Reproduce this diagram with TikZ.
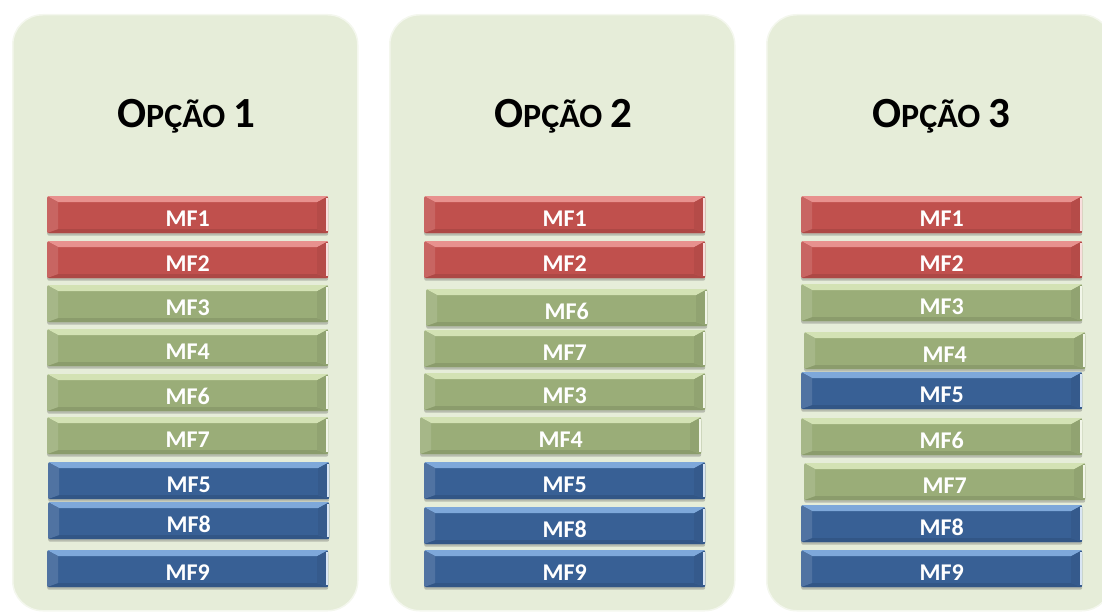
\documentclass[tikz,border=0pt]{standalone}
\usepackage{fontspec}
\setmainfont{Carlito}
\usetikzlibrary{shadows}

\definecolor{panelbg}{HTML}{E6EDD9}
\definecolor{mfred}{HTML}{C0504D}
\definecolor{mfredhi}{HTML}{E8918E}
\definecolor{mfgreen}{HTML}{9AAD78}
\definecolor{mfgreenhi}{HTML}{D3E2B4}
\definecolor{mfblue}{HTML}{386095}
\definecolor{mfbluehi}{HTML}{7EA8DA}

\newcommand\opcao[1]{\fontsize{43}{43}\selectfont O\fontsize{34}{34}\selectfont PÇÃO \fontsize{43}{43}\selectfont #1}

\tikzset{
  panel/.style={draw=white!55!panelbg, line width=1.5pt, fill=panelbg, rounded corners=30pt,
    minimum width=345pt, minimum height=596pt, anchor=north west, inner sep=0pt},
  titletext/.style={anchor=base, font=\bfseries, text=black, inner sep=0pt},
  mfbar/.style 2 args={fill=#1, minimum width=281pt, minimum height=37pt, anchor=north west,
    rounded corners=2pt, inner sep=0pt, text=white, font=\fontsize{24}{24}\selectfont\bfseries,
    text height=24pt, text depth=0pt,
    drop shadow={shadow xshift=0pt, shadow yshift=-2.5pt, opacity=.3, fill=black!70},
    path picture={
      % top edge
      \fill[#2, sharp corners] (path picture bounding box.north west) -- (path picture bounding box.north east)
        -- ([xshift=-11pt,yshift=-6pt]path picture bounding box.north east)
        -- ([xshift=11pt,yshift=-6pt]path picture bounding box.north west) -- cycle;
      % left end
      \fill[#1!88!white, sharp corners] (path picture bounding box.north west)
        -- ([xshift=11pt,yshift=-6pt]path picture bounding box.north west)
        -- ([xshift=11pt,yshift=4pt]path picture bounding box.south west)
        -- (path picture bounding box.south west) -- cycle;
      % bottom edge
      \fill[#1!90!black, sharp corners] (path picture bounding box.south west)
        -- ([xshift=11pt,yshift=4pt]path picture bounding box.south west)
        -- ([xshift=-11pt,yshift=4pt]path picture bounding box.south east)
        -- (path picture bounding box.south east) -- cycle;
      % right end
      \fill[#1!94!black, sharp corners] (path picture bounding box.north east)
        -- ([xshift=-11pt,yshift=-6pt]path picture bounding box.north east)
        -- ([xshift=-11pt,yshift=4pt]path picture bounding box.south east)
        -- (path picture bounding box.south east) -- cycle;
      \fill[white!70!#2, sharp corners] ([xshift=-2.5pt,yshift=-2pt]path picture bounding box.north east)
        rectangle ([yshift=2pt]path picture bounding box.south east);
    }},
  redbar/.style={mfbar={mfred}{mfredhi}},
  greenbar/.style={mfbar={mfgreen}{mfgreenhi}},
  bluebar/.style={mfbar={mfblue}{mfbluehi}},
}

\begin{document}
\begin{tikzpicture}[x=1pt, y=-1pt]
\useasboundingbox (0,0) rectangle (1102,612);
\clip (0,0) rectangle (1102,612);
% panels
\node[panel] (opcao1) at (12,14){};
\node[panel] (opcao2) at (389,14){};
\node[panel] (opcao3) at (766,14){};
\node[titletext] (titulo1) at (186,128){\opcao{1}};
\node[titletext] (titulo2) at (563,128){\opcao{2}};
\node[titletext] (titulo3) at (941,128){\opcao{3}};
% option 1
\node[redbar] (p1mf1) at (47,196){MF1};
\node[redbar] (p1mf2) at (47,241){MF2};
\node[greenbar] (p1mf3) at (47,285){MF3};
\node[greenbar] (p1mf4) at (47,329){MF4};
\node[greenbar] (p1mf6) at (47,374){MF6};
\node[greenbar] (p1mf7) at (47,417){MF7};
\node[bluebar] (p1mf5) at (48,462){MF5};
\node[bluebar] (p1mf8) at (48,502){MF8};
\node[bluebar] (p1mf9) at (47,550){MF9};
% option 2
\node[redbar] (p2mf1) at (424,196){MF1};
\node[redbar] (p2mf2) at (424,241){MF2};
\node[greenbar] (p2mf6) at (426,289){MF6};
\node[greenbar] (p2mf7) at (424,330){MF7};
\node[greenbar] (p2mf3) at (424,373){MF3};
\node[greenbar] (p2mf4) at (420,417){MF4};
\node[bluebar] (p2mf5) at (424,462){MF5};
\node[bluebar] (p2mf8) at (424,507){MF8};
\node[bluebar] (p2mf9) at (424,550){MF9};
% option 3
\node[redbar] (p3mf1) at (801,196){MF1};
\node[redbar] (p3mf2) at (801,241){MF2};
\node[greenbar] (p3mf3) at (801,284){MF3};
\node[greenbar] (p3mf4) at (804,332){MF4};
\node[bluebar] (p3mf5) at (801,372){MF5};
\node[greenbar] (p3mf6) at (801,418){MF6};
\node[greenbar] (p3mf7) at (804,463){MF7};
\node[bluebar] (p3mf8) at (801,505){MF8};
\node[bluebar] (p3mf9) at (801,550){MF9};
\end{tikzpicture}
\end{document}
